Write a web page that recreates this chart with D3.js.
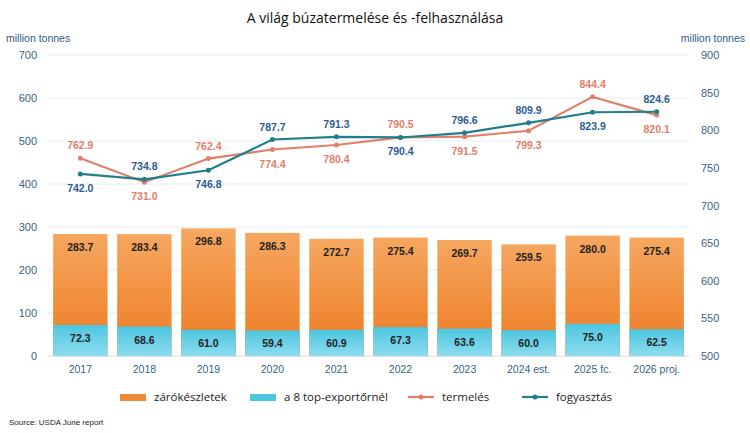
<!DOCTYPE html><html><head><meta charset="utf-8"><script src="https://cdn.jsdelivr.net/npm/d3@7"></script>
<style>body{margin:0;background:#fff}text{font-family:"Liberation Sans",Arial,sans-serif}</style></head><body>
<svg id="c" width="750" height="433"></svg>
<script>
const years=["2017","2018","2019","2020","2021","2022","2023","2024 est.","2025 fc.","2026 proj."];
const stocks=[283.7,283.4,296.8,286.3,272.7,275.4,269.7,259.5,280.0,275.4];
const top8=[72.3,68.6,61.0,59.4,60.9,67.3,63.6,60.0,75.0,62.5];
const production=[762.9,731.0,762.4,774.4,780.4,790.5,791.5,799.3,844.4,820.1];
const consumption=[742.0,734.8,746.8,787.7,791.3,790.4,796.6,809.9,823.9,824.6];
const leftTicks=[0,100,200,300,400,500,600,700];
const rightTicks=[500,550,600,650,700,750,800,850,900];
// label placement: true=above
const prodAbove=[true,false,true,false,false,true,false,false,true,false];
const consAbove=[false,true,false,true,true,false,true,true,false,true];

const svg=d3.select("#c");
const x=d3.scaleBand().domain(years).range([48,689]).paddingInner(0.15).paddingOuter(0.08);
const yL=d3.scaleLinear().domain([0,700]).range([356,55]);
const yR=d3.scaleLinear().domain([500,900]).range([356,55]);
const defs=svg.append("defs");
const g1=defs.append("linearGradient").attr("id","go").attr("x1",0).attr("x2",0).attr("y1",0).attr("y2",1);
g1.append("stop").attr("offset","0%").attr("stop-color","#f6a760");
g1.append("stop").attr("offset","100%").attr("stop-color","#ec7a22");
const g2=defs.append("linearGradient").attr("id","gc").attr("x1",0).attr("x2",0).attr("y1",0).attr("y2",1);
g2.append("stop").attr("offset","0%").attr("stop-color","#4dc6e0");
g2.append("stop").attr("offset","100%").attr("stop-color","#8ddcee");

svg.append("text").attr("x",375).attr("y",23).attr("text-anchor","middle").attr("font-size",14).attr("fill","#111").style("font-family","'Open Sans',sans-serif").text("A világ búzatermelése és -felhasználása");
leftTicks.forEach(t=>{svg.append("line").attr("x1",48).attr("x2",689).attr("y1",yL(t)).attr("y2",yL(t)).attr("stroke","#e4edf3");});
svg.append("text").attr("x",6).attr("y",42).attr("font-size",10.5).attr("fill","#2d5a8a").text("million tonnes");
svg.append("text").attr("x",745).attr("y",42).attr("text-anchor","end").attr("font-size",10.5).attr("fill","#2d5a8a").text("million tonnes");
const la=svg.append("g").attr("transform","translate(40,0)").call(d3.axisLeft(yL).tickValues(leftTicks).tickSize(0));
const ra=svg.append("g").attr("transform","translate(698,0)").call(d3.axisRight(yR).tickValues(rightTicks).tickSize(0));
[la,ra].forEach(a=>{a.select(".domain").remove();a.selectAll("text").attr("font-size",11).attr("fill","#3b5f86");});

svg.selectAll(".bo").data(stocks).join("rect").attr("x",(d,i)=>x(years[i])).attr("width",x.bandwidth()).attr("y",d=>yL(d)).attr("height",d=>yL(0)-yL(d)).attr("fill","url(#go)");
svg.selectAll(".bc").data(top8).join("rect").attr("x",(d,i)=>x(years[i])).attr("width",x.bandwidth()).attr("y",d=>yL(d)).attr("height",d=>yL(0)-yL(d)).attr("fill","url(#gc)");
const cx=i=>x(years[i])+x.bandwidth()/2;
svg.selectAll(".ls").data(stocks).join("text").attr("x",(d,i)=>cx(i)).attr("y",d=>yL(d)+17).attr("text-anchor","middle").attr("font-size",10.5).attr("font-weight","bold").attr("fill","#222").text(d=>d.toFixed(1));
svg.selectAll(".lc").data(top8).join("text").attr("x",(d,i)=>cx(i)).attr("y",d=>yL(d)+17).attr("text-anchor","middle").attr("font-size",10.5).attr("font-weight","bold").attr("fill","#222").text(d=>d.toFixed(1));
svg.append("g").attr("transform","translate(0,356)").call(d3.axisBottom(x).tickSize(0).tickPadding(10)).call(a=>{a.select(".domain").attr("stroke","#dde3ea");a.selectAll("text").attr("font-size",10.5).attr("fill","#3b5f86");});

const line=d3.line().x((d,i)=>cx(i)).y(d=>yR(d));
[[production,"#e0806a",prodAbove,"#e0806a"],[consumption,"#217f8c",consAbove,"#2b5c94"]].forEach(([data,col,ab,tc])=>{
 svg.append("path").datum(data).attr("d",line).attr("fill","none").attr("stroke",col).attr("stroke-width",2.2);
 svg.selectAll(null).data(data).join("circle").attr("cx",(d,i)=>cx(i)).attr("cy",d=>yR(d)).attr("r",2.5).attr("fill",col);
 svg.selectAll(null).data(data).join("text").attr("x",(d,i)=>cx(i)).attr("y",(d,i)=>yR(d)+(ab[i]?-9:18)).attr("text-anchor","middle").attr("font-size",10.5).attr("font-weight","bold").attr("fill",tc).text(d=>d.toFixed(1));
});

const leg=[["zárókészletek","rect","#ef8a35",120],["a 8 top-exportőrnél","rect","#4dc6e0",250],["termelés","line","#e0806a",408],["fogyasztás","line","#217f8c",522]];
leg.forEach(([t,k,c,lx])=>{
 if(k==="rect")svg.append("rect").attr("x",lx).attr("y",394).attr("width",26).attr("height",7).attr("fill",c);
 else{svg.append("line").attr("x1",lx).attr("x2",lx+26).attr("y1",397).attr("y2",397).attr("stroke",c).attr("stroke-width",2.2);svg.append("circle").attr("cx",lx+13).attr("cy",397).attr("r",2.5).attr("fill",c);}
 svg.append("text").attr("x",lx+34).attr("y",401).attr("font-size",11.5).attr("fill","#222").style("font-family","'Open Sans',sans-serif").text(t);
});
svg.append("text").attr("x",9).attr("y",425).attr("font-size",8).attr("fill","#222").text("Source:  USDA June  report");
</script></body></html>
